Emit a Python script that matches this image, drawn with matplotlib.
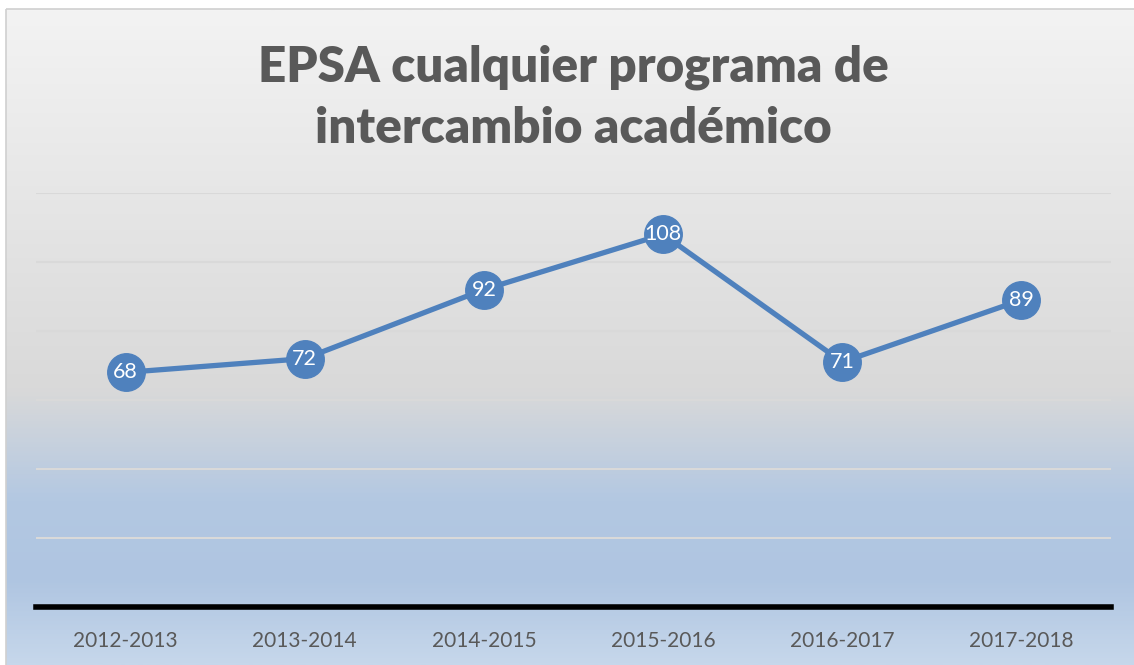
import numpy as np
import matplotlib.pyplot as plt
from matplotlib.colors import LinearSegmentedColormap
from matplotlib.patches import Rectangle

years = ["2012-2013", "2013-2014", "2014-2015", "2015-2016", "2016-2017", "2017-2018"]
students = [68, 72, 92, 108, 71, 89]

W, H = 1134, 665
fig = plt.figure(figsize=(W / 100, H / 100), dpi=100)
fig.patch.set_facecolor("white")

# background gradient of the chart area (white -> grey -> light blue)
bg = fig.add_axes([0, 0, 1, 1], zorder=0)
bg.set_axis_off()
grad = LinearSegmentedColormap.from_list(
    "bg", [(0.0, "#f3f3f3"), (0.58, "#d9d9d9"), (0.75, "#b3c8e2"),
           (0.87, "#afc5e1"), (1.0, "#c6d7eb")])
g = np.linspace(0, 1, 400).reshape(-1, 1)
bg.imshow(g, cmap=grad, aspect="auto", extent=(6, W + 5, H, 9))
bg.add_patch(Rectangle((6, 9), W, H, fill=False, edgecolor="#d0d0d0", lw=1.2))
bg.set_xlim(0, W)
bg.set_ylim(H, 0)

ax = fig.add_axes([36 / W, 1 - 607 / H, (1111 - 36) / W, (607 - 193) / H], zorder=1)
ax.patch.set_alpha(0)
x = np.arange(len(years))
ax.set_xlim(-0.5, len(years) - 0.5)
ax.set_ylim(0, 120)
ax.set_yticks(np.arange(20, 121, 20))
ax.yaxis.grid(True, color="#d9d9d9", lw=1.5)
ax.set_axisbelow(True)
for s in ["left", "right", "top"]:
    ax.spines[s].set_visible(False)
ax.spines["bottom"].set_linewidth(4)
ax.spines["bottom"].set_color("black")
ax.tick_params(axis="y", left=False, labelleft=False)
ax.tick_params(axis="x", length=0, pad=17, labelsize=15, labelcolor="#595959")
ax.set_xticks(x)
ax.set_xticklabels(years, fontfamily="Lato")

ax.plot(x, students, color="#4f81bd", lw=3.8, marker="o", markersize=27,
        markerfacecolor="#4f81bd", markeredgecolor="#4f81bd", zorder=3)
for xi, v in zip(x, students):
    ax.text(xi, v, str(v), ha="center", va="center", color="white",
            fontsize=15.5, fontfamily="Lato", zorder=4)

fig.text(573 / W, 1 - 98 / H, "EPSA cualquier programa de\nintercambio académico",
         ha="center", va="center", fontsize=35.5, fontweight="heavy",
         color="#595959", fontfamily="Lato", linespacing=1.42)

fig.savefig("out.png", dpi=100)
